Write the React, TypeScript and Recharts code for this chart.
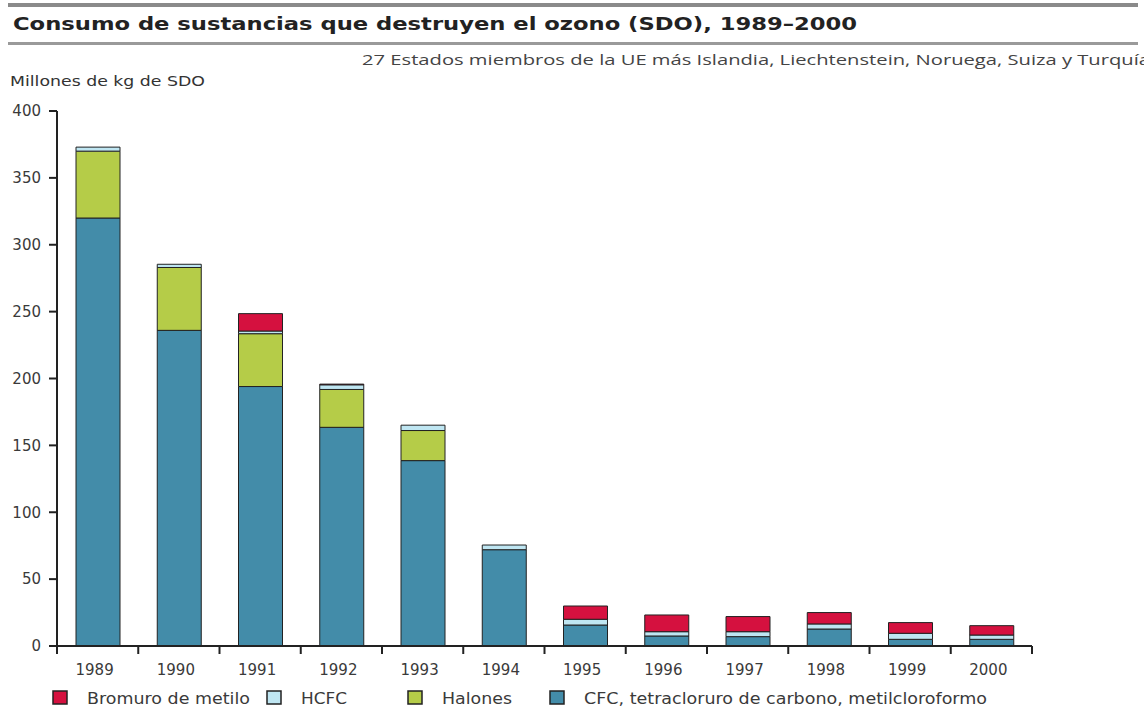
import React from "react";
import { Bar, BarChart, XAxis, YAxis } from "recharts";

const years = ["1989", "1990", "1991", "1992", "1993", "1994", "1995", "1996", "1997", "1998", "1999", "2000"];
const cfc = [320, 236, 194, 163.5, 138.6, 72, 15.7, 7.5, 7, 12.7, 5, 5];
const halones = [50, 47, 39.5, 28.3, 22.5, 0, 0, 0, 0, 0, 0, 0];
const hcfc = [3, 2.4, 2, 3.5, 4, 3.5, 4.3, 3.2, 3.7, 3.8, 4.5, 3.2];
const bromuro = [0, 0, 13, 0.5, 0, 0, 9.9, 12.5, 11.3, 8.5, 8, 7];
const yTicks = [0, 50, 100, 150, 200, 250, 300, 350, 400];

const legendItems = [
  { label: "Bromuro de metilo", color: "#d5113f", x: 53, w: 163 },
  { label: "HCFC", color: "#bfe6f2", x: 267, w: 46 },
  { label: "Halones", color: "#b5cc48", x: 408, w: 70 },
  { label: "CFC, tetracloruro de carbono, metilcloroformo", color: "#438ca9", x: 550, w: 403 },
];

const data = years.map((year, i) => ({
  year,
  cfc: cfc[i],
  halones: halones[i],
  hcfc: hcfc[i],
  bromuro: bromuro[i],
}));

const W = 1144;
const H = 709;
const LEFT = 57;
const RIGHT = 112;
const band = (W - LEFT - RIGHT) / years.length;
const font = "'DejaVu Sans', Verdana, sans-serif";

const XTick = (props: any) => {
  const { x, y, payload, index } = props;
  const last = index === years.length - 1;
  return (
    <g>
      <line x1={x - band / 2} x2={x - band / 2} y1={y} y2={y + 8} stroke="#222" strokeWidth={2} />
      {last && <line x1={x + band / 2} x2={x + band / 2} y1={y} y2={y + 8} stroke="#222" strokeWidth={2} />}
      <text x={x - 3} y={y + 29} textAnchor="middle" fontSize={15} fill="#3a3a3a" fontFamily={font}>
        {payload.value}
      </text>
    </g>
  );
};

export default function App() {
  return (
    <div style={{ position: "absolute", left: 0, top: 0, width: W, height: H, background: "#fff" }}>
      <BarChart
        width={W}
        height={H}
        data={data}
        margin={{ top: 111, right: RIGHT, bottom: 33, left: 7 }}
        barSize={44}
      >
        <XAxis
          dataKey="year"
          height={30}
          tickLine={false}
          tickSize={0}
          tickMargin={0}
          axisLine={{ stroke: "#222", strokeWidth: 2 }}
          tick={<XTick />}
          interval={0}
        />
        <YAxis
          width={50}
          domain={[0, 400]}
          ticks={yTicks}
          tickSize={8}
          tickMargin={8}
          axisLine={{ stroke: "#222", strokeWidth: 2 }}
          tickLine={{ stroke: "#222", strokeWidth: 2 }}
          tick={{ fontSize: 15, fill: "#3a3a3a", fontFamily: font }}
        />
        <Bar dataKey="cfc" stackId="a" fill="#438ca9" stroke="#222" strokeWidth={1} isAnimationActive={false} />
        <Bar dataKey="halones" stackId="a" fill="#b5cc48" stroke="#222" strokeWidth={1} isAnimationActive={false} />
        <Bar dataKey="hcfc" stackId="a" fill="#bfe6f2" stroke="#222" strokeWidth={1} isAnimationActive={false} />
        <Bar dataKey="bromuro" stackId="a" fill="#d5113f" stroke="#222" strokeWidth={1} isAnimationActive={false} />
      </BarChart>
      <svg width={W} height={H} style={{ position: "absolute", left: 0, top: 0, pointerEvents: "none" }}>
        <rect x={8} y={3} width={1130} height={4} fill="#8a8a8a" />
        <rect x={8} y={42} width={1130} height={3} fill="#9a9a9a" />
        <text x={13} y={30} fontSize={18} fontWeight="bold" fill="#222" fontFamily={font} textLength={844} lengthAdjust="spacingAndGlyphs">
          Consumo de sustancias que destruyen el ozono (SDO), 1989–2000
        </text>
        <text x={362} y={65} fontSize={15} fill="#444" fontFamily="'Open Sans', sans-serif" textLength={788} lengthAdjust="spacingAndGlyphs">
          27 Estados miembros de la UE más Islandia, Liechtenstein, Noruega, Suiza y Turquía
        </text>
        <text x={10} y={86} fontSize={14} fill="#333" fontFamily={font} textLength={195} lengthAdjust="spacingAndGlyphs">
          Millones de kg de SDO
        </text>
        {legendItems.map((it) => (
          <g key={it.label}>
            <rect x={it.x} y={691} width={14} height={13} fill={it.color} stroke="#222" strokeWidth={1.5} />
            <text x={it.x + 34} y={704} fontSize={15} fill="#3a3a3a" fontFamily={font} textLength={it.w} lengthAdjust="spacingAndGlyphs">
              {it.label}
            </text>
          </g>
        ))}
      </svg>
    </div>
  );
}
